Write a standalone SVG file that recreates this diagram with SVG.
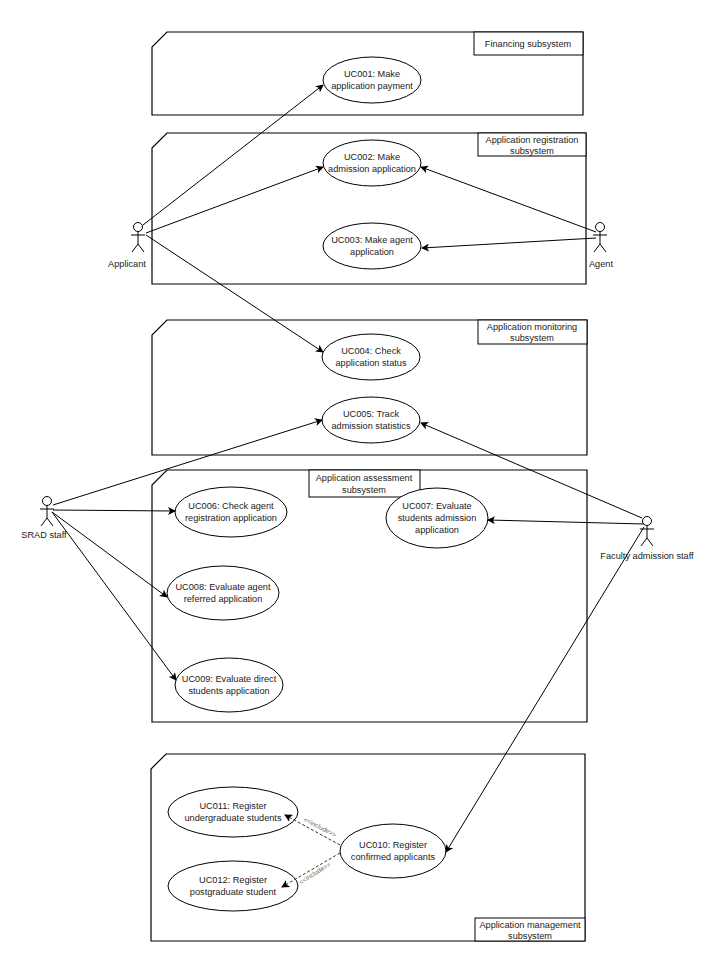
<svg xmlns="http://www.w3.org/2000/svg" width="713" height="965" viewBox="0 0 713 965">
<defs>
<style>
.f{fill:none;stroke:#000;stroke-width:1.2}
.lb{fill:#fff;stroke:#000;stroke-width:1}
.uc{fill:#fff;stroke:#000;stroke-width:1}
text{font-family:"Liberation Sans",Arial,sans-serif;font-size:9.2px;fill:#222;text-anchor:middle}
.c{fill:none;stroke:#000;stroke-width:1;marker-end:url(#a)}
.d{fill:none;stroke:#333;stroke-width:1;stroke-dasharray:3 2;marker-end:url(#a)}
.inc{font-size:6.5px;fill:#666}
.act{fill:none;stroke:#000;stroke-width:1}
</style>
<marker id="a" markerWidth="8" markerHeight="8" refX="7" refY="4" orient="auto" markerUnits="userSpaceOnUse"><path d="M0,0 L8,4 L0,8 L2,4 Z" fill="#000"/></marker>
</defs>
<rect width="713" height="965" fill="#fff"/>
<g id="frame-financing"><path class="f" d="M167,32 H583 V115 H152 V47 Z"/><rect class="lb" x="474" y="32" width="109" height="23"/><text x="528" y="47">Financing subsystem</text></g>
<g id="frame-registration"><path class="f" d="M167,133 H586 V284 H152 V148 Z"/><rect class="lb" x="478" y="133" width="108" height="23"/><text x="532" y="143">Application registration</text><text x="532" y="154">subsystem</text></g>
<g id="frame-monitoring"><path class="f" d="M167,320 H587 V455 H152 V335 Z"/><rect class="lb" x="478" y="320" width="109" height="24"/><text x="532" y="330">Application monitoring</text><text x="532" y="341">subsystem</text></g>
<g id="frame-assessment"><path class="f" d="M167,470 H587 V722 H152 V485 Z"/><rect class="lb" x="309" y="470" width="111" height="27"/><text x="364" y="481">Application assessment</text><text x="364" y="493">subsystem</text></g>
<g id="frame-management"><path class="f" d="M166,754 H585 V941 H151 V769 Z"/><rect class="lb" x="475" y="918" width="110" height="23"/><text x="530" y="928">Application management</text><text x="530" y="939">subsystem</text></g>

<g id="uc001"><ellipse class="uc" cx="372" cy="80" rx="49" ry="23"/><text x="372" y="77">UC001: Make</text><text x="372" y="89">application payment</text></g>
<g id="uc002"><ellipse class="uc" cx="372" cy="163" rx="49" ry="23"/><text x="372" y="160">UC002: Make</text><text x="372" y="172">admission application</text></g>
<g id="uc003"><ellipse class="uc" cx="372" cy="246" rx="49" ry="23"/><text x="372" y="243">UC003: Make agent</text><text x="372" y="255">application</text></g>
<g id="uc004"><ellipse class="uc" cx="371" cy="357" rx="49" ry="23"/><text x="371" y="354">UC004: Check</text><text x="371" y="366">application status</text></g>
<g id="uc005"><ellipse class="uc" cx="371" cy="420" rx="49" ry="23"/><text x="371" y="417">UC005: Track</text><text x="371" y="429">admission statistics</text></g>
<g id="uc006"><ellipse class="uc" cx="231" cy="512" rx="56" ry="25"/><text x="231" y="509">UC006: Check agent</text><text x="231" y="521">registration application</text></g>
<g id="uc007"><ellipse class="uc" cx="437" cy="518" rx="51" ry="30"/><text x="437" y="509">UC007: Evaluate</text><text x="437" y="521">students admission</text><text x="437" y="533">application</text></g>
<g id="uc008"><ellipse class="uc" cx="223" cy="593" rx="56" ry="27"/><text x="223" y="590">UC008: Evaluate agent</text><text x="223" y="602">referred application</text></g>
<g id="uc009"><ellipse class="uc" cx="229" cy="685" rx="54" ry="27"/><text x="229" y="682">UC009: Evaluate direct</text><text x="229" y="694">students application</text></g>
<g id="uc010"><ellipse class="uc" cx="393" cy="851" rx="53" ry="27"/><text x="393" y="848">UC010: Register</text><text x="393" y="860">confirmed applicants</text></g>
<g id="uc011"><ellipse class="uc" cx="233" cy="812" rx="65" ry="25"/><text x="233" y="809">UC011: Register</text><text x="233" y="821">undergraduate students</text></g>
<g id="uc012"><ellipse class="uc" cx="233" cy="886" rx="65" ry="25"/><text x="233" y="883">UC012: Register</text><text x="233" y="895">postgraduate student</text></g>

<g id="actor-applicant" class="act"><circle cx="138" cy="227" r="4.5"/><path d="M138,231.5 V244 M131,235 H145 M138,244 L132,252 M138,244 L144,252"/><text x="127" y="267" stroke="none">Applicant</text></g>
<g id="actor-agent" class="act"><circle cx="600" cy="227" r="4.5"/><path d="M600,231.5 V244 M593,235 H607 M600,244 L594,252 M600,244 L606,252"/><text x="601" y="267" stroke="none">Agent</text></g>
<g id="actor-srad" class="act"><circle cx="47" cy="501" r="4.5"/><path d="M47,505.5 V518 M40,509 H54 M47,518 L41,526 M47,518 L53,526"/><text x="44" y="538" stroke="none">SRAD staff</text></g>
<g id="actor-faculty" class="act"><circle cx="647" cy="521" r="4.5"/><path d="M647,525.5 V538 M640,529 H654 M647,538 L641,546 M647,538 L653,546"/><text x="647" y="559" stroke="none">Faculty admission staff</text></g>

<g id="connectors">
<path class="c" d="M143,225 L323,85"/>
<path class="c" d="M146,233 L323,167"/>
<path class="c" d="M146,235 L323,352"/>
<path class="c" d="M596,232 L421,167"/>
<path class="c" d="M596,238 L422,248"/>
<path class="c" d="M53,505 L322,420"/>
<path class="c" d="M53,510 L175,511"/>
<path class="c" d="M52,512 L167,597"/>
<path class="c" d="M52,512 L176,680"/>
<path class="c" d="M642,518 L421,423"/>
<path class="c" d="M644,524 L488,520"/>
<path class="c" d="M644,527 L446,852"/>
<path class="d" d="M340,845 L285,815"/>
<path class="d" d="M340,853 L282,887"/>
<text class="inc" transform="translate(319,829) rotate(27)">&lt;&lt;include&gt;&gt;</text>
<text class="inc" transform="translate(316,875) rotate(-32)">&lt;&lt;include&gt;&gt;</text>
</g>
</svg>
